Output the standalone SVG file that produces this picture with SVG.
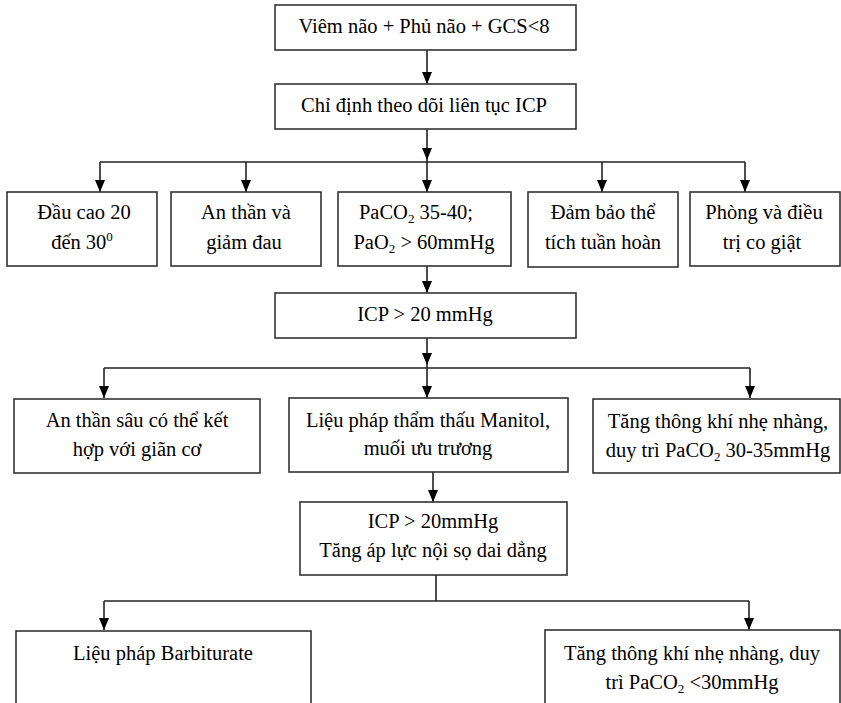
<svg xmlns="http://www.w3.org/2000/svg" width="841" height="703" viewBox="0 0 841 703">
<style>
.box{fill:#fff;stroke:#333;stroke-width:1.6}
.t{font-family:"Liberation Serif","Times New Roman",serif;font-size:20.5px;fill:#000;text-anchor:middle}
.c{fill:none;stroke:#222;stroke-width:1.6}
.s{font-size:13px}
</style>
<rect width="841" height="703" fill="#fff"/>
<g id="connectors">
<path class="c" d="M427,50 V84"/>
<path class="c" d="M427,129 V162"/>
<path class="c" d="M100,162 H745"/>
<path class="c" d="M100,162 V192"/>
<path class="c" d="M246,162 V192"/>
<path class="c" d="M427,162 V192"/>
<path class="c" d="M602,162 V192"/>
<path class="c" d="M745,162 V192"/>
<path class="c" d="M427,266 V293"/>
<path class="c" d="M427,338 V368"/>
<path class="c" d="M104,368 H750"/>
<path class="c" d="M104,368 V398"/>
<path class="c" d="M427,368 V398"/>
<path class="c" d="M750,368 V398"/>
<path class="c" d="M433,472 V502"/>
<path class="c" d="M436,575 V601"/>
<path class="c" d="M104,601 H749"/>
<path class="c" d="M104,601 V630"/>
<path class="c" d="M749,601 V630"/>
<g fill="#000">
<path d="M422,72 H432 L427,84 Z"/>
<path d="M422,148 H432 L427,160 Z"/>
<path d="M95,180 H105 L100,192 Z"/>
<path d="M241,180 H251 L246,192 Z"/>
<path d="M422,180 H432 L427,192 Z"/>
<path d="M597,180 H607 L602,192 Z"/>
<path d="M740,180 H750 L745,192 Z"/>
<path d="M422,281 H432 L427,293 Z"/>
<path d="M422,353 H432 L427,365 Z"/>
<path d="M99,386 H109 L104,398 Z"/>
<path d="M422,386 H432 L427,398 Z"/>
<path d="M745,386 H755 L750,398 Z"/>
<path d="M428,490 H438 L433,502 Z"/>
<path d="M99,618 H109 L104,630 Z"/>
<path d="M744,618 H754 L749,630 Z"/>
</g>
</g>
<g id="n1"><rect class="box" x="275" y="5" width="301" height="45"/><text class="t" x="424" y="33">Viêm não + Phủ não + GCS&lt;8</text></g>
<g id="n2"><rect class="box" x="275" y="84" width="301" height="45"/><text class="t" x="424" y="112">Chỉ định theo dõi liên tục ICP</text></g>
<g id="n3"><rect class="box" x="7" y="192" width="150" height="74"/><text class="t" x="84" y="219">Đầu cao 20</text><text class="t" x="82" y="249">đến 30<tspan class="s" dy="-8">0</tspan></text></g>
<g id="n4"><rect class="box" x="171" y="192" width="150" height="74"/><text class="t" x="246" y="219">An thần và</text><text class="t" x="244" y="249">giảm đau</text></g>
<g id="n5"><rect class="box" x="338" y="192" width="173" height="74"/><text class="t" x="416" y="219">PaCO<tspan class="s" dy="4">2</tspan><tspan dy="-4"> 35-40;</tspan></text><text class="t" x="424" y="249">PaO<tspan class="s" dy="4">2</tspan><tspan dy="-4"> &gt; 60mmHg</tspan></text></g>
<g id="n6"><rect class="box" x="528" y="192" width="150" height="75"/><text class="t" x="603" y="219">Đảm bảo thể</text><text class="t" x="603" y="249">tích tuần hoàn</text></g>
<g id="n7"><rect class="box" x="690" y="192" width="150" height="74"/><text class="t" x="764" y="219">Phòng và điều</text><text class="t" x="762" y="249">trị co giật</text></g>
<g id="n8"><rect class="box" x="275" y="293" width="301" height="45"/><text class="t" x="425" y="321">ICP &gt; 20 mmHg</text></g>
<g id="n9"><rect class="box" x="14" y="399" width="246" height="74"/><text class="t" x="137" y="427">An thần sâu có thể kết</text><text class="t" x="137" y="456">hợp với giãn cơ</text></g>
<g id="n10"><rect class="box" x="289" y="398" width="279" height="74"/><text class="t" x="428" y="427">Liệu pháp thẩm thấu Manitol,</text><text class="t" x="428" y="455">muối ưu trương</text></g>
<g id="n11"><rect class="box" x="593" y="399" width="247" height="74"/><text class="t" x="718" y="428">Tăng thông khí nhẹ nhàng,</text><text class="t" x="718" y="457">duy trì PaCO<tspan class="s" dy="4">2</tspan><tspan dy="-4"> 30-35mmHg</tspan></text></g>
<g id="n12"><rect class="box" x="300" y="502" width="267" height="73"/><text class="t" x="433" y="528">ICP &gt; 20mmHg</text><text class="t" x="433" y="557">Tăng áp lực nội sọ dai dẳng</text></g>
<g id="n13"><rect class="box" x="16" y="631" width="295" height="80"/><text class="t" x="163" y="660">Liệu pháp Barbiturate</text></g>
<g id="n14"><rect class="box" x="545" y="630" width="295" height="80"/><text class="t" x="692" y="660">Tăng thông khí nhẹ nhàng, duy</text><text class="t" x="692" y="689">trì PaCO<tspan class="s" dy="4">2</tspan><tspan dy="-4"> &lt;30mmHg</tspan></text></g>
</svg>
